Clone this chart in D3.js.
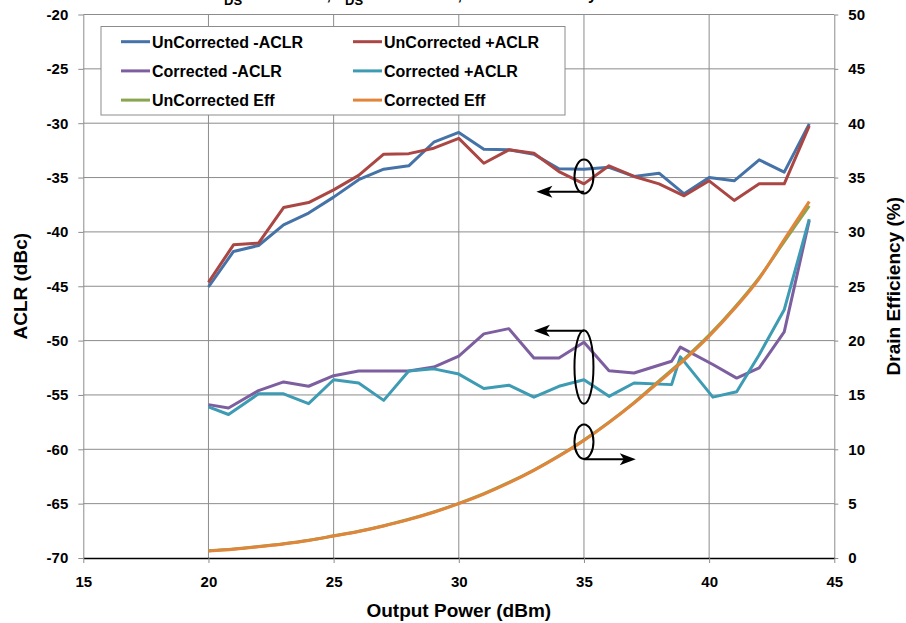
<!DOCTYPE html>
<html>
<head>
<meta charset="utf-8">
<script src="https://cdn.jsdelivr.net/npm/d3@7"></script>
<style>
    body { margin: 0; background: #fff; }
    svg { display: block; font-family: "Liberation Sans", Arial, sans-serif; font-weight: bold; }
</style>
</head>
<body>
<svg id="chart"></svg>
<script>
// data
const powerUn = [20, 21, 22, 23, 24, 25, 26, 27, 28, 29, 30, 31, 32, 33, 34, 35, 36, 37, 38, 39, 40, 41, 42, 43, 44];
const unMinusAclr = [-45.07, -41.8, -41.25, -39.35, -38.27, -36.8, -35.2, -34.23, -33.92, -31.75, -30.85, -32.4, -32.45, -32.85, -34.2, -34.23, -34.05, -34.9, -34.6, -36.5, -35.0, -35.3, -33.37, -34.5, -30.06];
const unPlusAclr = [-44.65, -41.19, -41.03, -37.76, -37.3, -36.13, -34.8, -32.85, -32.8, -32.3, -31.4, -33.68, -32.45, -32.76, -34.45, -35.58, -33.92, -34.9, -35.58, -36.68, -35.3, -37.1, -35.58, -35.58, -30.25];

const powerCor = [20, 20.8, 22, 23, 24, 25, 26, 27, 28, 29, 30, 31, 32, 33, 34, 35, 36, 37, 38.5, 38.85, 40.15, 41.1, 42, 43, 44];
const corMinusAclr = [-55.89, -56.2, -54.6, -53.8, -54.2, -53.23, -52.8, -52.8, -52.8, -52.43, -51.42, -49.38, -48.9, -51.6, -51.6, -50.16, -52.77, -52.98, -51.9, -50.6, -52.2, -53.45, -52.5, -49.2, -38.95];
const corPlusAclr = [-56.1, -56.8, -54.9, -54.9, -55.8, -53.6, -53.9, -55.5, -52.8, -52.6, -53.08, -54.4, -54.1, -55.2, -54.2, -53.6, -55.13, -53.9, -54.05, -51.5, -55.2, -54.7, -51.3, -47.16, -38.83];

const unEff = [0.66, 0.83, 1.05, 1.31, 1.63, 2.04, 2.46, 2.97, 3.56, 4.24, 5.03, 5.92, 6.95, 8.1, 9.4, 10.86, 12.5, 14.3, 16.3, 18.3, 20.5, 23.0, 25.8, 29.1, 32.4];
const corEff = [0.64, 0.81, 1.03, 1.29, 1.61, 2.02, 2.44, 2.95, 3.53, 4.21, 5.0, 5.88, 6.9, 8.06, 9.36, 10.82, 12.45, 14.24, 16.2, 18.2, 20.4, 22.9, 25.7, 29.3, 32.8];

const xTicks = [15, 20, 25, 30, 35, 40, 45];
const aclrTicks = [-70, -65, -60, -55, -50, -45, -40, -35, -30, -25, -20];
const effTicks = [0, 5, 10, 15, 20, 25, 30, 35, 40, 45, 50];

const width = 906,
    height = 623;
const plotLeft = 83.3,
    plotRight = 834.3,
    plotTop = 14.5,
    plotBottom = 558;

const svg = d3.select("#chart").attr("width", width).attr("height", height);

const xScale = d3.scaleLinear().domain([15, 45]).range([plotLeft, plotRight]);
const yLeft = d3.scaleLinear().domain([-70, -20]).range([plotBottom, plotTop]);
const yRight = d3.scaleLinear().domain([0, 50]).range([plotBottom, plotTop]);

// title, mostly above the visible area (cut off in the original too)
const title = svg.append("g").attr("font-size", 16);
title.append("text").attr("x", 224).attr("y", 0).attr("text-anchor", "end").text("V");
title.append("text").attr("x", 224).attr("y", 5).attr("font-size", 13).text("DS");
title.append("text").attr("x", 331).attr("y", 0).attr("text-anchor", "end").text(" = 48 V,");
title.append("text").attr("x", 345).attr("y", 0).attr("text-anchor", "end").text("I");
title.append("text").attr("x", 345).attr("y", 5).attr("font-size", 13).text("DS");
title.append("text").attr("x", 462).attr("y", 0).attr("text-anchor", "end").text(" = 100 mA,");
title.append("text").attr("x", 597).attr("y", 0).attr("text-anchor", "end").text("Class AB Doherty");

// grid
const grid = svg.append("g").attr("stroke", "#8c8c8c").attr("stroke-width", 1);
grid.selectAll("line.v")
    .data(xTicks.slice(1, -1))
    .enter()
    .append("line")
    .attr("x1", (d) => xScale(d))
    .attr("x2", (d) => xScale(d))
    .attr("y1", plotTop)
    .attr("y2", plotBottom);
grid.selectAll("line.h")
    .data(aclrTicks.slice(1))
    .enter()
    .append("line")
    .attr("x1", plotLeft)
    .attr("x2", plotRight)
    .attr("y1", (d) => yLeft(d))
    .attr("y2", (d) => yLeft(d));

// axes
const styleAxis = (g, size) => {
    g.attr("font-family", null).attr("font-size", size).attr("font-weight", "bold");
    g.selectAll("path.domain").attr("stroke", "#8c8c8c");
    g.selectAll(".tick line").attr("stroke", "#8c8c8c");
    g.selectAll(".tick text").attr("fill", "#000");
};
const plain = (d) => String(d);

svg.append("g")
    .attr("transform", "translate(" + plotLeft + ",0)")
    .call(d3.axisLeft(yLeft).tickValues(aclrTicks).tickFormat(plain).tickSize(5).tickSizeOuter(0).tickPadding(10))
    .call((g) => styleAxis(g, 15));

svg.append("g")
    .attr("transform", "translate(" + plotRight + ",0)")
    .call(d3.axisRight(yRight).tickValues(effTicks).tickFormat(plain).tickSize(4).tickSizeOuter(0).tickPadding(10))
    .call((g) => styleAxis(g, 15));

svg.append("g")
    .attr("transform", "translate(0," + plotBottom + ")")
    .call(d3.axisBottom(xScale).tickValues(xTicks).tickFormat(plain).tickSize(5).tickSizeOuter(0).tickPadding(13))
    .call((g) => {
        styleAxis(g, 15);
        g.select("path.domain").attr("stroke", "#000").attr("stroke-width", 1.5);
    });

// axis titles
svg.append("text")
    .attr("x", (plotLeft + plotRight) / 2)
    .attr("y", 617)
    .attr("text-anchor", "middle")
    .attr("font-size", 19)
    .text("Output Power (dBm)");
svg.append("text")
    .attr("transform", "translate(27," + (plotTop + plotBottom) / 2 + ") rotate(-90)")
    .attr("text-anchor", "middle")
    .attr("font-size", 19)
    .text("ACLR (dBc)");
svg.append("text")
    .attr("transform", "translate(900," + (plotTop + plotBottom) / 2 + ") rotate(-90)")
    .attr("text-anchor", "middle")
    .attr("font-size", 19)
    .text("Drain Efficiency (%)");

// series
const series = [
    { name: "UnCorrected -ACLR", x: powerUn, y: unMinusAclr, scale: yLeft, color: "#4572a7", smooth: false },
    { name: "UnCorrected +ACLR", x: powerUn, y: unPlusAclr, scale: yLeft, color: "#aa4643", smooth: false },
    { name: "Corrected -ACLR", x: powerCor, y: corMinusAclr, scale: yLeft, color: "#7d5fa0", smooth: false },
    { name: "Corrected +ACLR", x: powerCor, y: corPlusAclr, scale: yLeft, color: "#3d9bb3", smooth: false },
    { name: "UnCorrected Eff", x: powerUn, y: unEff, scale: yRight, color: "#89a54e", smooth: true },
    { name: "Corrected Eff", x: powerUn, y: corEff, scale: yRight, color: "#e0853a", smooth: true }
];

series.forEach((s) => {
    const line = d3
        .line()
        .x((d, i) => xScale(s.x[i]))
        .y((d) => s.scale(d))
        .curve(s.smooth ? d3.curveMonotoneX : d3.curveLinear);
    svg.append("path")
        .datum(s.y)
        .attr("fill", "none")
        .attr("stroke", s.color)
        .attr("stroke-width", 3)
        .attr("stroke-linejoin", "round")
        .attr("d", line);
});

// annotations: ellipse + arrow pointing to the axis used
const notes = [
    { x: 35, cy: -34.9, scale: yLeft, ry: 17, arrowY: -36.3, toX: 33.1 },
    { x: 35, cy: -52.43, scale: yLeft, ry: 36.7, arrowY: -49.09, toX: 33.0 },
    { x: 35, cy: 10.7, scale: yRight, ry: 17.2, arrowY: 9.08, toX: 37.07 }
];
notes.forEach((n) => {
    const cx = xScale(n.x),
        ay = n.scale(n.arrowY),
        tip = xScale(n.toX),
        dir = tip < cx ? 1 : -1;
    svg.append("ellipse")
        .attr("cx", cx)
        .attr("cy", n.scale(n.cy))
        .attr("rx", 9.5)
        .attr("ry", n.ry)
        .attr("fill", "none")
        .attr("stroke", "#000")
        .attr("stroke-width", 2);
    svg.append("line")
        .attr("x1", cx)
        .attr("x2", tip + dir * 10)
        .attr("y1", ay)
        .attr("y2", ay)
        .attr("stroke", "#000")
        .attr("stroke-width", 2);
    svg.append("path")
        .attr("d", "M" + tip + "," + ay + " L" + (tip + dir * 16) + "," + (ay - 6) + " L" + (tip + dir * 12) + "," + ay + " L" + (tip + dir * 16) + "," + (ay + 6) + " Z")
        .attr("fill", "#000");
});

// legend
const legend = svg.append("g");
legend.append("rect")
    .attr("x", 101)
    .attr("y", 26.5)
    .attr("width", 464)
    .attr("height", 88.5)
    .attr("fill", "#fff")
    .attr("stroke", "#8c8c8c")
    .attr("stroke-width", 1);
const items = legend.selectAll("g.item")
    .data(series)
    .enter()
    .append("g")
    .attr("transform", (d, i) => "translate(" + (i % 2 === 0 ? 121 : 353) + "," + (41.7 + Math.floor(i / 2) * 29.2) + ")");
items.append("line")
    .attr("x1", 0)
    .attr("x2", 29)
    .attr("stroke", (d) => d.color)
    .attr("stroke-width", 3);
items.append("text")
    .attr("x", 31)
    .attr("y", 5.8)
    .attr("font-size", 16)
    .text((d) => d.name);
</script>
</body>
</html>
